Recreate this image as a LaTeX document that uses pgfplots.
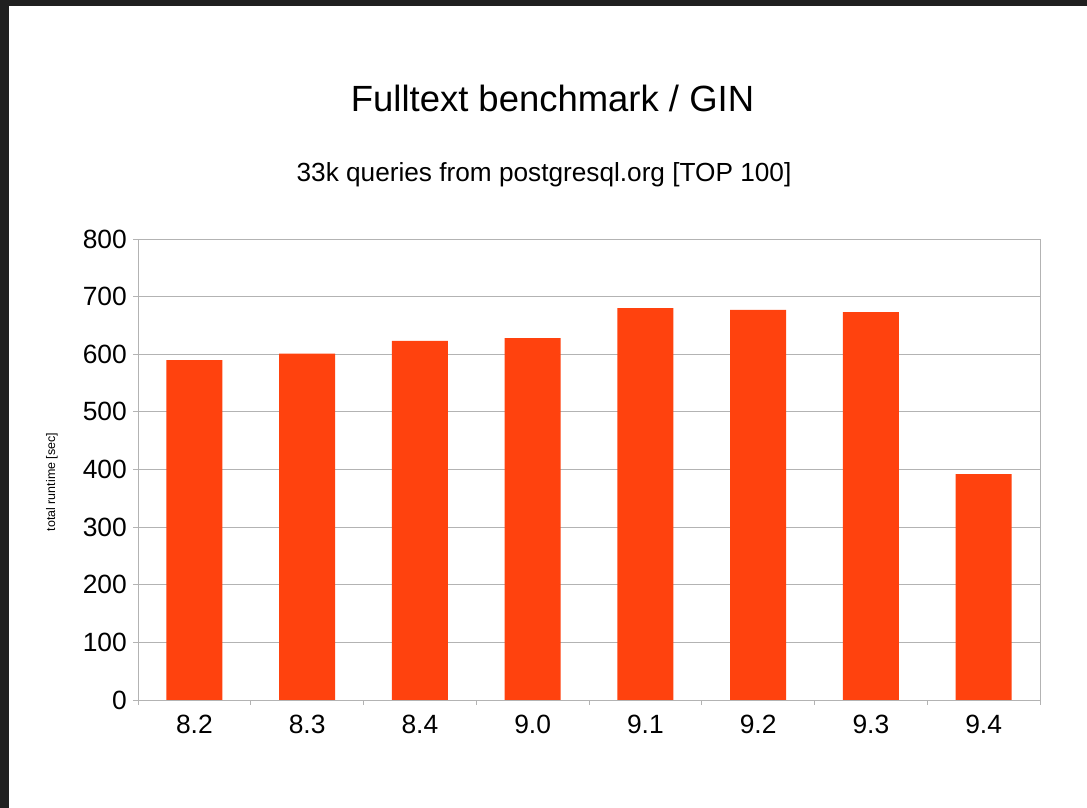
\documentclass[border=0pt]{standalone}
\usepackage{fontspec}
\setmainfont{Liberation Sans}
\usepackage{pgfplots}
\pgfplotsset{compat=1.18}
\definecolor{barc}{HTML}{FF420E}
\definecolor{gridc}{HTML}{B3B3B3}
\definecolor{framec}{HTML}{202020}
\begin{document}
\begin{tikzpicture}[x=1bp,y=1bp]
\fill[white] (0,0) rectangle (1087,808);
\fill[framec] (0,802) rectangle (1087,808);
\fill[framec] (0,0) rectangle (9,808);
\node[anchor=base, inner sep=0pt, font=\fontsize{36.6}{43}\selectfont] at (552.5,696) {Fulltext benchmark / GIN};
\node[anchor=base, inner sep=0pt, font=\fontsize{26.3}{31}\selectfont] at (544,626) {33k queries from postgresql.org [TOP 100]};
\begin{axis}[
  at={(138bp,108bp)}, anchor=south west,
  width=902bp, height=461bp, scale only axis,
  xmin=0.5, xmax=8.5, ymin=0, ymax=800,
  ytick={0,100,...,800},
  xtick={1,...,8},
  xticklabels={8.2,8.3,8.4,9.0,9.1,9.2,9.3,9.4},
  minor xtick={0.5,1.5,...,8.5},
  tick pos=left,
  major x tick style={draw=none},
  minor x tick style={draw=gridc, line width=0.8pt},
  major y tick style={draw=gridc, line width=0.8pt},
  tick align=outside,
  major tick length=5bp, minor tick length=5bp,
  ymajorgrids, grid style={gridc, line width=0.8pt},
  axis line style={gridc, line width=0.8pt},
  /pgf/number format/assume math mode=true,
  ticklabel style={font=\fontsize{26.5}{31}\selectfont, inner sep=0pt, text=black},
  yticklabel style={xshift=-6bp},
  xticklabel style={yshift=-10bp},
  ybar, bar width=56bp, bar shift=0pt,
  clip=false,
]
\addplot[fill=barc, draw=none] coordinates {(1,590) (2,601) (3,623) (4,628) (5,680) (6,677) (7,673) (8,392)};
\end{axis}
\node[rotate=90, inner sep=0pt, font=\fontsize{12.5}{15}\selectfont] at (52,326) {total runtime [sec]};
\end{tikzpicture}
\end{document}
